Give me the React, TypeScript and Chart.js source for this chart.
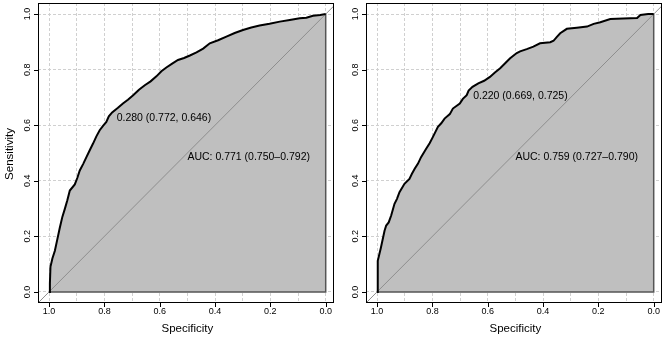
import React, { useEffect, useRef } from "react";
import { Chart, registerables } from "chart.js";

Chart.register(...registerables);

const W = 669;
const H = 337;

// Axis ticks (labelled) and grid positions
const SPEC_TICKS = [1.0, 0.8, 0.6, 0.4, 0.2, 0.0];
const SENS_TICKS = [0.0, 0.2, 0.4, 0.6, 0.8, 1.0];
const SPEC_GRID = [0.0, 0.1, 0.2, 0.3, 0.4, 0.5, 0.6, 0.7, 0.8, 0.9, 1.0];

// Model A ROC curve
const specA = [
  1, 0.997, 0.995, 0.988, 0.979, 0.97, 0.961, 0.952, 0.943, 0.934, 0.925, 0.907, 0.898, 0.889, 0.877,
  0.865, 0.853, 0.841, 0.829, 0.817, 0.805, 0.793, 0.784, 0.772, 0.752, 0.733, 0.715, 0.696, 0.675,
  0.654, 0.633, 0.612, 0.594, 0.576, 0.555, 0.534, 0.512, 0.491, 0.467, 0.443, 0.419, 0.389, 0.359,
  0.329, 0.299, 0.269, 0.239, 0.203, 0.166, 0.13, 0.094, 0.07, 0.046, 0.02, 0,
];
const sensA = [
  0, 0.03, 0.09, 0.12, 0.148, 0.19, 0.232, 0.27, 0.299, 0.33, 0.365, 0.387, 0.41, 0.437, 0.46,
  0.485, 0.51, 0.534, 0.56, 0.582, 0.598, 0.612, 0.632, 0.646, 0.662, 0.678, 0.692, 0.708, 0.728,
  0.744, 0.758, 0.776, 0.794, 0.808, 0.822, 0.835, 0.842, 0.851, 0.862, 0.876, 0.895, 0.906, 0.919,
  0.932, 0.943, 0.952, 0.959, 0.965, 0.973, 0.979, 0.985, 0.987, 0.994, 0.997, 1,
];
const thresholdA = [0.28, 0.772, 0.646]; // cut-off, specificity, sensitivity
const aucA = [0.771, 0.75, 0.792]; // AUC, lower CI, upper CI

// Model B ROC curve
const specB = [
  1, 0.998, 0.997, 0.986, 0.973, 0.967, 0.958, 0.949, 0.937, 0.928, 0.919, 0.901, 0.883, 0.874, 0.864,
  0.852, 0.841, 0.822, 0.81, 0.798, 0.78, 0.768, 0.756, 0.737, 0.726, 0.701, 0.69, 0.676, 0.669,
  0.655, 0.634, 0.613, 0.592, 0.574, 0.555, 0.537, 0.519, 0.495, 0.483, 0.459, 0.435, 0.411, 0.374,
  0.362, 0.35, 0.338, 0.314, 0.278, 0.241, 0.217, 0.193, 0.157, 0.11, 0.06, 0.048, 0.02, 0,
];
const sensB = [
  0, 0.06, 0.112, 0.16, 0.22, 0.239, 0.25, 0.275, 0.317, 0.335, 0.359, 0.389, 0.407, 0.425, 0.443,
  0.462, 0.485, 0.516, 0.535, 0.558, 0.594, 0.607, 0.624, 0.64, 0.66, 0.678, 0.695, 0.708, 0.725,
  0.738, 0.751, 0.76, 0.774, 0.79, 0.805, 0.823, 0.841, 0.86, 0.866, 0.874, 0.883, 0.895, 0.899,
  0.904, 0.918, 0.931, 0.947, 0.951, 0.955, 0.965, 0.971, 0.982, 0.984, 0.986, 0.997, 1, 1,
];
const thresholdB = [0.22, 0.669, 0.725];
const aucB = [0.759, 0.727, 0.79];

const X_MIN = -0.03;
const X_MAX = 1.04;
const Y_MIN = -0.04;
const Y_MAX = 1.04;

const FONT = '"Liberation Sans", Arial, Helvetica, sans-serif';

type PanelProps = {
  spec: number[];
  sens: number[];
  thr: number[];
  auc: number[];
  left: number;
  right: number;
  yTitle: boolean;
};

function RocPanel({ spec, sens, thr, auc, left, right, yTitle }: PanelProps) {
  const ref = useRef<HTMLCanvasElement>(null);

  useEffect(() => {
    const curve = spec.map((x, i) => ({ x, y: sens[i] }));

    const decor = {
      id: "rocDecor",
      afterDraw(chart: any) {
        const { ctx, chartArea: a } = chart;
        const xs = chart.scales.x;
        const ys = chart.scales.y;
        ctx.save();

        // plot frame
        ctx.strokeStyle = "#000";
        ctx.lineWidth = 1;
        ctx.setLineDash([]);
        ctx.strokeRect(a.left + 0.5, a.top + 0.5, a.right - a.left - 1, a.bottom - a.top - 1);

        // tick marks
        ctx.beginPath();
        for (const v of SPEC_TICKS) {
          const px = Math.round(xs.getPixelForValue(v)) + 0.5;
          ctx.moveTo(px, a.bottom);
          ctx.lineTo(px, a.bottom + 4);
        }
        for (const v of SENS_TICKS) {
          const py = Math.round(ys.getPixelForValue(v)) + 0.5;
          ctx.moveTo(a.left, py);
          ctx.lineTo(a.left - 4, py);
        }
        ctx.stroke();

        // tick labels
        ctx.fillStyle = "#000";
        ctx.font = `9px ${FONT}`;
        ctx.textAlign = "center";
        ctx.textBaseline = "middle";
        for (const v of SPEC_TICKS) {
          ctx.fillText(v.toFixed(1), xs.getPixelForValue(v), a.bottom + 9);
        }
        for (const v of SENS_TICKS) {
          ctx.save();
          ctx.translate(a.left - 10, ys.getPixelForValue(v));
          ctx.rotate(-Math.PI / 2);
          ctx.fillText(v.toFixed(1), 0, 0);
          ctx.restore();
        }

        // axis titles
        ctx.font = `11.5px ${FONT}`;
        ctx.fillText("Specificity", (xs.getPixelForValue(1) + xs.getPixelForValue(0)) / 2, a.bottom + 25.5);
        if (yTitle) {
          ctx.save();
          ctx.translate(10, (a.top + a.bottom) / 2 + 1);
          ctx.rotate(-Math.PI / 2);
          ctx.fillText("Sensitivity", 0, 0);
          ctx.restore();
        }

        // best threshold and AUC annotations
        ctx.font = `10.5px ${FONT}`;
        ctx.textAlign = "left";
        const tx = xs.getPixelForValue(thr[1]);
        const ty = ys.getPixelForValue(thr[2]);
        ctx.fillText(
          `${thr[0].toFixed(3)} (${thr[1].toFixed(3)}, ${thr[2].toFixed(3)})`,
          tx + 4.5,
          ty + 6
        );
        ctx.fillText(
          `AUC: ${auc[0].toFixed(3)} (${auc[1].toFixed(3)}\u2013${auc[2].toFixed(3)})`,
          xs.getPixelForValue(0.5),
          ys.getPixelForValue(0.485)
        );
        ctx.restore();
      },
    };

    const chart = new Chart(ref.current as HTMLCanvasElement, {
      type: "line",
      data: {
        datasets: [
          {
            // ROC curve
            data: curve,
            borderColor: "#000",
            borderWidth: 2,
            pointRadius: 0,
            fill: false,
            tension: 0,
            order: 1,
          },
          {
            // outline of the area under the curve (right and bottom edges)
            data: [
              { x: 0, y: 1 },
              { x: 0, y: 0 },
              { x: 1, y: 0 },
            ],
            borderColor: "#555",
            borderWidth: 1.5,
            pointRadius: 0,
            fill: false,
            order: 2,
          },
          {
            // chance line
            data: [
              { x: X_MAX, y: 1 - X_MAX },
              { x: -0.04, y: 1.04 },
            ],
            borderColor: "#8e8e8e",
            borderWidth: 1,
            pointRadius: 0,
            fill: false,
            order: 3,
          },
          {
            // shaded area under the curve
            data: curve,
            borderWidth: 0,
            borderColor: "rgba(0,0,0,0)",
            backgroundColor: "#bfbfbf",
            pointRadius: 0,
            fill: "origin",
            tension: 0,
            order: 4,
          },
        ],
      },
      options: {
        animation: false,
        responsive: false,
        devicePixelRatio: 1,
        events: [],
        layout: { padding: { left, right: W - right, top: 3, bottom: H - 303 } },
        plugins: { legend: { display: false }, tooltip: { enabled: false } },
        scales: {
          x: {
            type: "linear",
            reverse: true,
            min: X_MIN,
            max: X_MAX,
            afterBuildTicks: (s: any) => {
              s.ticks = SPEC_GRID.map((v) => ({ value: v }));
            },
            afterFit: (s: any) => {
              s.height = 0;
            },
            ticks: { display: false },
            grid: { color: "#d0d0d0", lineWidth: 1, drawTicks: false },
            border: { display: false, dash: [3, 2] },
          },
          y: {
            type: "linear",
            min: Y_MIN,
            max: Y_MAX,
            afterBuildTicks: (s: any) => {
              s.ticks = SENS_TICKS.map((v) => ({ value: v }));
            },
            afterFit: (s: any) => {
              s.width = 0;
            },
            ticks: { display: false },
            grid: { color: "#d0d0d0", lineWidth: 1, drawTicks: false },
            border: { display: false, dash: [3, 2] },
          },
        },
      } as any,
      plugins: [decor],
    });
    return () => chart.destroy();
  }, []);

  return (
    <canvas
      ref={ref}
      width={W}
      height={H}
      style={{ position: "absolute", left: 0, top: 0, width: W, height: H }}
    />
  );
}

export default function App() {
  return (
    <div style={{ position: "absolute", left: 0, top: 0, width: W, height: H, background: "#fff" }}>
      <RocPanel spec={specA} sens={sensA} thr={thresholdA} auc={aucA} left={38} right={334} yTitle />
      <RocPanel spec={specB} sens={sensB} thr={thresholdB} auc={aucB} left={366} right={662} yTitle={false} />
    </div>
  );
}
